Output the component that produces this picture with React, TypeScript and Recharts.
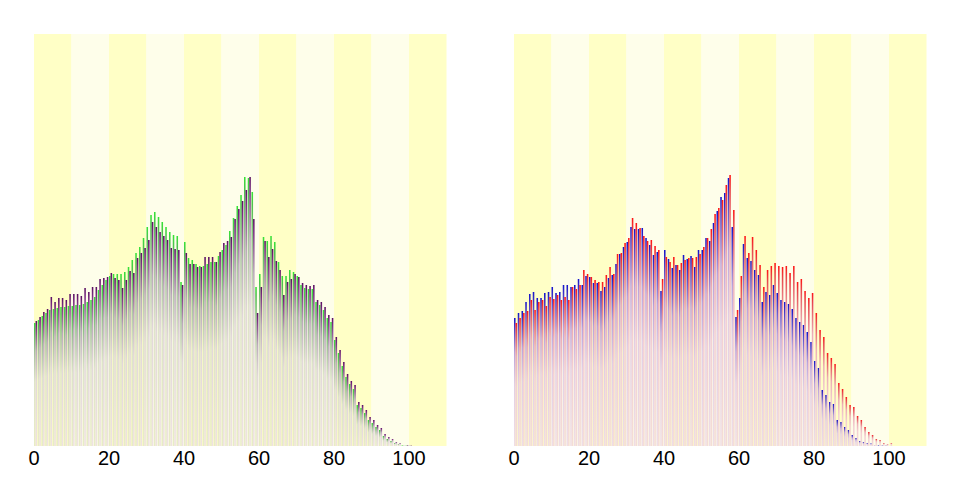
import React from 'react';
import { BarChart, Bar, XAxis, YAxis, ReferenceArea } from 'recharts';

// Age categories 0..109 (ages above 100 are empty)
const AGES: number[] = Array.from({ length: 110 }, (_, i) => i);
const TICKS: number[] = [0, 20, 40, 60, 80, 100];
const DECADES: number[] = [0, 10, 20, 30, 40, 50, 60, 70, 80, 90, 100];

// Left panel: green series and purple series (bar heights)
const LEFT_GREEN: number[] = [
  123, 126, 130, 133, 136, 137, 138, 139, 139, 140,
  140, 141, 141, 142, 144, 146, 149, 156, 161, 166,
  170, 172, 172, 172, 174, 179, 186, 193, 199, 208,
  219, 231, 234, 229, 224, 219, 214, 211, 210, 164,
  204, 188, 186, 182, 180, 180, 182, 184, 184, 190,
  196, 201, 215, 228, 240, 251, 269, 268, 254, 159,
  172, 209, 205, 210, 204, 184, 170, 170, 176, 174,
  170, 161, 158, 157, 157, 144, 141, 136, 128, 124,
  106, 93, 80, 69, 62, 57, 41, 38, 33, 26,
  23, 19, 16, 10, 7, 5, 3, 2, 0.5, 0.3,
  1,
];
const LEFT_PURPLE: number[] = [
  125, 129, 134, 137, 149, 144, 148, 148, 146, 152,
  152, 152, 150, 158, 154, 159, 159, 167, 168, 169,
  173, 168, 166, 158, 166, 175, 173, 188, 193, 198,
  206, 224, 219, 214, 210, 206, 198, 197, 196, 161,
  193, 182, 182, 179, 179, 189, 189, 189, 184, 194,
  203, 205, 209, 227, 237, 245, 256, 269, 227, 133,
  159, 205, 189, 197, 185, 176, 151, 164, 167, 172,
  169, 163, 161, 160, 161, 146, 144, 139, 131, 128,
  109, 96, 84, 72, 65, 61, 44, 41, 36, 29,
  26, 21, 18, 12, 9, 7, 4, 3, 1, 0.5,
  0.3,
];

// Right panel: blue series and red series
const RIGHT_BLUE: number[] = [
  128, 133, 135, 144, 152, 154, 148, 148, 153, 154,
  159, 153, 154, 161, 161, 159, 161, 167, 161, 170,
  169, 163, 163, 155, 159, 168, 171, 182, 192, 199,
  204, 219, 217, 217, 218, 208, 201, 191, 194, 155,
  196, 187, 178, 181, 176, 191, 187, 190, 179, 196,
  196, 208, 205, 223, 235, 249, 253, 268, 219, 129,
  148, 202, 188, 185, 176, 171, 144, 154, 151, 161,
  153, 146, 144, 142, 137, 128, 124, 121, 114, 104,
  85, 78, 56, 51, 44, 42, 26, 24, 19, 16,
  11, 8, 5, 4, 3, 2.5, 1, 0.5, 0.3, 0.2,
  0.1,
];
const RIGHT_RED: number[] = [
  123, 128, 133, 135, 146, 136, 144, 146, 140, 149,
  147, 151, 146, 149, 146, 159, 157, 161, 176, 172,
  169, 166, 164, 164, 171, 179, 172, 192, 193, 203,
  208, 228, 223, 218, 210, 205, 206, 200, 196, 167,
  189, 184, 189, 181, 183, 186, 188, 188, 189, 192,
  199, 208, 217, 232, 238, 246, 261, 271, 236, 136,
  170, 210, 193, 209, 196, 181, 159, 176, 180, 183,
  180, 179, 180, 173, 180, 164, 167, 155, 148, 153,
  133, 116, 109, 93, 88, 82, 63, 57, 49, 41,
  39, 30, 26, 19, 14, 11, 7, 6, 3, 2,
  3,
];

const BAND_YELLOW = '#ffffc6';
const BAND_LIGHT = '#fefeea';

const FONT = '"Liberation Sans", Arial, Helvetica, sans-serif';

const leftData = AGES.map((a) => ({
  age: a,
  g: LEFT_GREEN[a] ?? null,
  p: LEFT_PURPLE[a] ?? null,
}));
const rightData = AGES.map((a) => ({
  age: a,
  b: RIGHT_BLUE[a] ?? null,
  r: RIGHT_RED[a] ?? null,
}));

type Stop = [number, string];
const GRADS: Record<string, Stop[]> = {
  green: [
    [0, '#36e436'],
    [0.05, '#4ec04e'],
    [0.24, '#a6c29e'],
    [0.48, '#dee4ca'],
    [1, '#e8ecc6'],
  ],
  purple: [
    [0, '#5a1062'],
    [0.05, '#782a80'],
    [0.24, '#bcaabc'],
    [0.48, '#e2d8da'],
    [1, '#eee2e2'],
  ],
  blue: [
    [0, '#1414cc'],
    [0.06, '#4234c4'],
    [0.27, '#bca2da'],
    [0.52, '#e2cee4'],
    [1, '#efdde6'],
  ],
  red: [
    [0, '#ff1414'],
    [0.06, '#e8464a'],
    [0.27, '#ecaeb6'],
    [0.52, '#f3d0d4'],
    [1, '#f4ddd6'],
  ],
};

function Grad({ id, name }: { id: string; name: string }) {
  return (
    <linearGradient id={id} x1="0" y1="0" x2="0" y2="1">
      {GRADS[name].map(([o, c], i) => (
        <stop key={i} offset={o} stopColor={c} />
      ))}
    </linearGradient>
  );
}

function AgeTick(props: any) {
  const { x, y, payload } = props;
  const off = payload && payload.offset ? payload.offset : 0;
  return (
    <text
      x={x - off}
      y={y}
      dy="0.71em"
      textAnchor="middle"
      fontFamily={FONT}
      fontSize={20}
      fill="#000"
    >
      {payload.value}
    </text>
  );
}

function Panel({
  data,
  k1,
  k2,
  g1,
  g2,
  prefix,
}: {
  data: any[];
  k1: string;
  k2: string;
  g1: string;
  g2: string;
  prefix: string;
}) {
  return (
    <BarChart
      width={480}
      height={480}
      data={data}
      margin={{ top: 34, right: 33.5, bottom: 0, left: 34 }}
      barSize={1.55}
      barGap={0}
    >
      <defs>
        <Grad id={`${prefix}-1`} name={g1} />
        <Grad id={`${prefix}-2`} name={g2} />
      </defs>
      <XAxis
        dataKey="age"
        type="category"
        height={34}
        ticks={TICKS}
        tick={<AgeTick />}
        axisLine={false}
        tickLine={false}
        tickSize={0}
        tickMargin={5}
        interval={0}
      />
      <YAxis hide type="number" domain={[0, 412]} allowDataOverflow />
      {DECADES.map((d, i) => (
        <ReferenceArea
          key={d}
          x1={d}
          x2={d + 9}
          y1={0}
          y2={412}
          fill={i % 2 === 0 ? BAND_YELLOW : BAND_LIGHT}
          fillOpacity={1}
          stroke="none"
          ifOverflow="visible"
        />
      ))}
      <Bar dataKey={k1} fill={`url(#${prefix}-1)`} barSize={1.55} isAnimationActive={false} />
      <Bar dataKey={k2} fill={`url(#${prefix}-2)`} barSize={1.55} isAnimationActive={false} />
    </BarChart>
  );
}

export default function App() {
  return (
    <div
      style={{
        position: 'absolute',
        left: 0,
        top: 0,
        width: 960,
        height: 480,
        background: '#ffffff',
        display: 'flex',
      }}
    >
      <Panel data={leftData} k1="g" k2="p" g1="green" g2="purple" prefix="lp" />
      <Panel data={rightData} k1="b" k2="r" g1="blue" g2="red" prefix="rp" />
    </div>
  );
}
